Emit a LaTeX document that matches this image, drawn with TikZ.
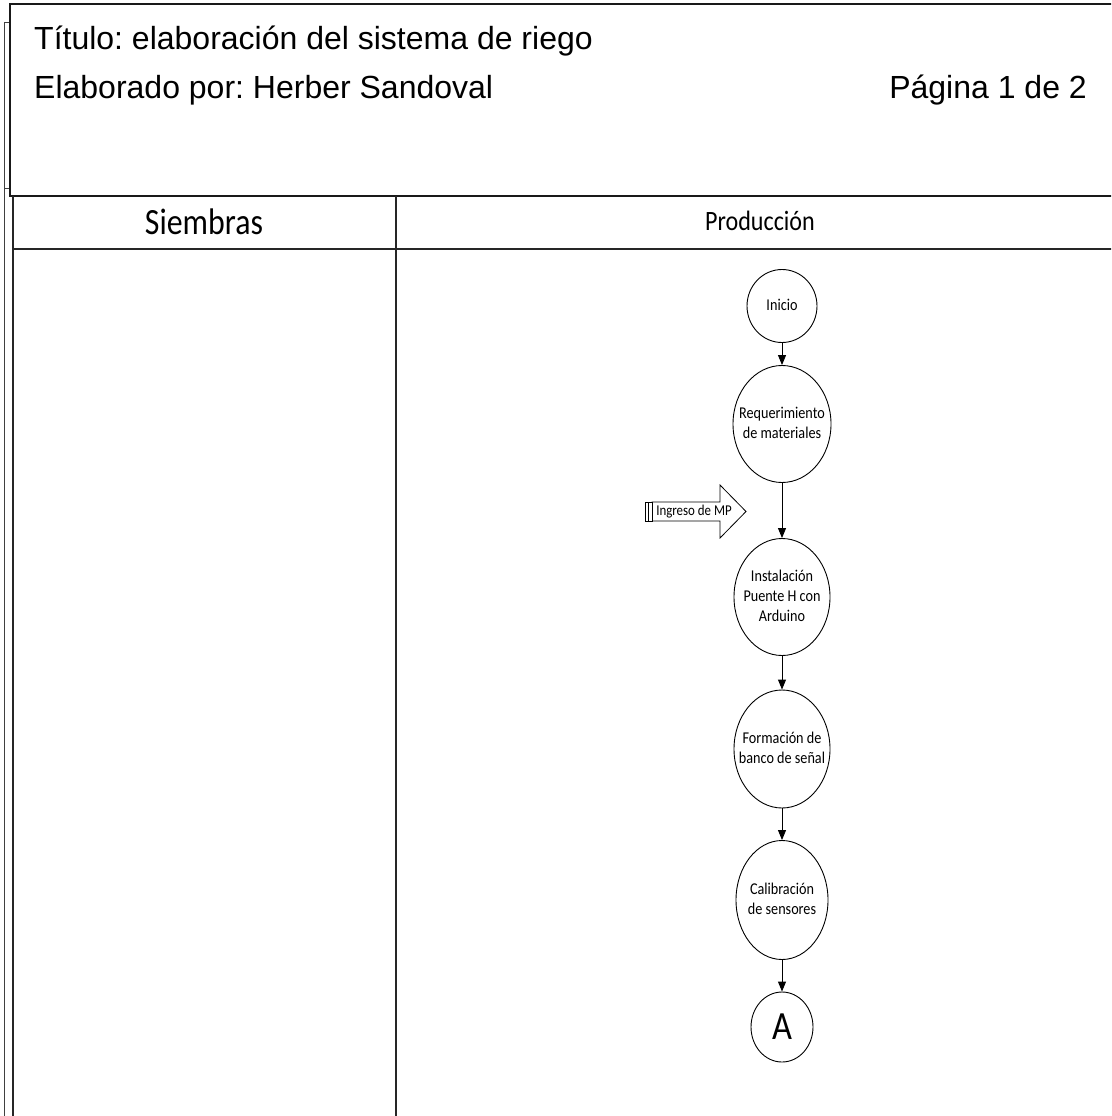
\documentclass[tikz,border=0pt]{standalone}
\usepackage{graphicx}
\usepackage{fontspec}
\setmainfont{Liberation Sans}
\newfontfamily\calibri{Carlito}
\usetikzlibrary{arrows.meta,shapes.geometric}
\frenchspacing

% narrow Calibri-style text, several lines
\newcommand\nodetxt[1]{\scalebox{0.86}[1]{\begin{tabular}{@{}c@{}}#1\end{tabular}}}

\begin{document}
\begin{tikzpicture}[x=1pt,y=-1pt,
  framebox/.style={draw=black!90, line width=1.4pt},
  thinrule/.style={draw=black!75, line width=0.8pt},
  lanerule/.style={draw=black!85, line width=1.4pt},
  proc/.style={ellipse, draw=black, line width=0.9pt, fill=white, inner sep=0pt},
  flow/.style={-{Triangle[length=10pt,width=8pt]}, line width=0.9pt},
  every label/.append style={font=\calibri\fontsize{16.5}{20}\selectfont, inner sep=0pt},
  headtxt/.style={font=\fontsize{32}{37}\selectfont, inner sep=0pt}]

\useasboundingbox (0,0) rectangle (1111,1116);
\fill[white] (0,0) rectangle (1111,1116);
\clip (0,0) rectangle (1111,1116);

% outer page margin line with its small ticks
\draw[thinrule] (4,22) -- (4,1120);
\draw[thinrule] (4,22) -- (10,22);
\draw[thinrule] (4,188) -- (10,188);

% title block
\draw[framebox] (10,4) rectangle (1125,196);
\node[headtxt, anchor=base west] (titulo) at (34,50) {Título: elaboración del sistema de riego};
\node[headtxt, anchor=base west] (autor) at (34,99) {Elaborado por: Herber Sandoval};
\node[headtxt, anchor=base east] (pagina) at (1087,99) {Página 1 de 2};

% swimlanes
\draw[lanerule] (13,196) -- (13,1120);
\draw[lanerule] (396,196) -- (396,1120);
\draw[lanerule] (13,249) -- (1125,249);
\node[font=\calibri\fontsize{37}{42}\selectfont, inner sep=0pt] (siembras) at (204,222) {\scalebox{0.86}[1]{Siembras}};
\node[font=\calibri\fontsize{28}{32}\selectfont, inner sep=0pt] (produccion) at (760,221) {\scalebox{0.86}[1]{Producción}};

% process steps
\node[proc, minimum width=70pt, minimum height=73pt, label=center:{\nodetxt{Inicio}}] (ini) at (782,306) {};
\node[proc, minimum width=98pt, minimum height=117pt, label=center:{\nodetxt{Requerimiento\\de materiales}}] (req) at (782,424) {};
\node[proc, minimum width=96pt, minimum height=117pt, label=center:{\nodetxt{Instalación\\Puente H con\\Arduino}}] (inst) at (782,597) {};
\node[proc, minimum width=96pt, minimum height=118pt, label=center:{\nodetxt{Formación de\\banco de señal}}] (form) at (782,749) {};
\node[proc, minimum width=92pt, minimum height=119pt, label=center:{\nodetxt{Calibración\\de sensores}}] (cal) at (782,900) {};
\node[proc, minimum width=62pt, minimum height=70pt, label=center:{\calibri\fontsize{40}{46}\selectfont\scalebox{0.86}[1]{A}}] (conA) at (782,1027) {};

\draw[flow] (ini) -- (req);
\draw[flow] (req) -- (inst);
\draw[flow] (inst) -- (form);
\draw[flow] (form) -- (cal);
\draw[flow] (cal) -- (conA);

% incoming material arrow
\draw[line width=0.8pt, fill=white] (652,502) -- (720,502) -- (720,485) -- (746,511.5) -- (720,538) -- (720,521) -- (652,521) -- cycle;
\draw[line width=0.8pt, fill=white] (645,502) rectangle (652,521);
\draw[line width=0.8pt] (648.5,502) -- (648.5,521);
\node[font=\calibri\fontsize{15}{18}\selectfont, inner sep=0pt] (ingreso) at (694,511.5) {\scalebox{0.86}[1]{Ingreso de MP}};
\end{tikzpicture}
\end{document}
